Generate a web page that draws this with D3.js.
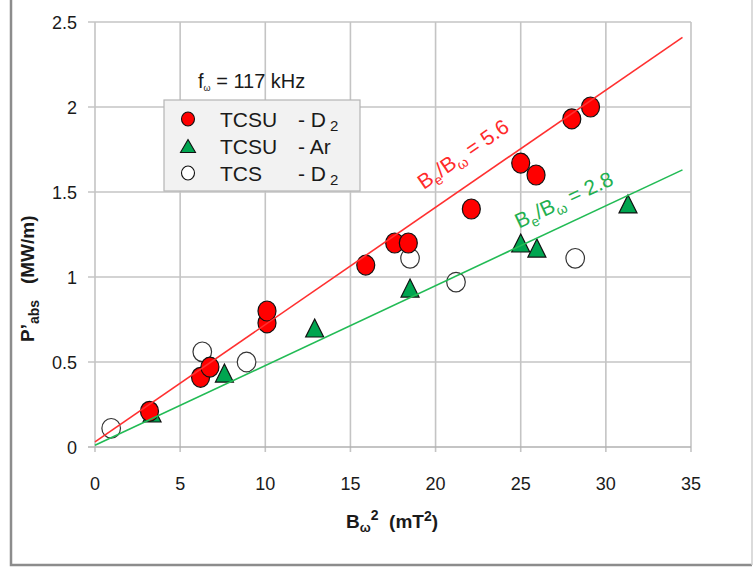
<!DOCTYPE html>
<html lang="en">
<head>
<meta charset="UTF-8">
<title>P'abs vs Bω²</title>
<script src="https://d3js.org/d3.v7.min.js"></script>
<style>
  * { margin: 0; padding: 0; }
  body { background-color: #fff; }
  svg { display: block; font-family: "Liberation Sans", Arial, sans-serif; }
</style>
</head>
<body>
<svg id="chart" width="755" height="567"></svg>
<script>
// data
var xTicks = [0, 5, 10, 15, 20, 25, 30, 35];
var yTicks = [0, 0.5, 1, 1.5, 2, 2.5];
var yTickLabels = ["0", "0.5", "1", "1.5", "2", "2.5"];

var tcsuD2X = [3.2, 6.2, 6.75, 10.1, 10.1, 15.9, 17.6, 18.4, 22.1, 25.0, 25.9, 28.0, 29.1];
var tcsuD2Y = [0.21, 0.41, 0.47, 0.73, 0.80, 1.07, 1.20, 1.20, 1.40, 1.67, 1.60, 1.93, 2.00];

var tcsuArX = [3.35, 7.6, 12.9, 18.5, 25.0, 25.95, 31.3];
var tcsuArY = [0.20, 0.435, 0.70, 0.935, 1.20, 1.17, 1.43];

var tcsD2X = [0.95, 6.3, 8.9, 18.5, 21.2, 28.2];
var tcsD2Y = [0.11, 0.56, 0.50, 1.11, 0.97, 1.11];

var fitX = [0, 34.5];
var fitRed = [0.03, 2.41];
var fitGreen = [0.01, 1.63];

var svg = d3.select('#chart');
var x = d3.scaleLinear().domain([0, 35]).range([95, 691]);
var y = d3.scaleLinear().domain([0, 2.5]).range([447, 22]);

// outer frame (left, bottom, right)
svg.append('path').attr('d', 'M11,0 V565 H752').attr('fill', 'none')
  .attr('stroke', '#8c8c8c').attr('stroke-width', 2.5);
svg.append('line').attr('x1', 752).attr('x2', 752).attr('y1', 0).attr('y2', 565)
  .attr('stroke', '#cfcfcf').attr('stroke-width', 1.5);

// grid
var gridColor = '#c4c4c4';
svg.append('g').selectAll('line').data(xTicks).enter().append('line')
  .attr('x1', function(d){ return x(d); }).attr('x2', function(d){ return x(d); })
  .attr('y1', y(2.5)).attr('y2', y(0) + 5)
  .attr('stroke', gridColor).attr('stroke-width', 1.6);
svg.append('g').selectAll('line').data(yTicks).enter().append('line')
  .attr('x1', x(0) - 7).attr('x2', x(35))
  .attr('y1', function(d){ return y(d); }).attr('y2', function(d){ return y(d); })
  .attr('stroke', function(d){ return d === 0 ? '#b0b0b0' : gridColor; })
  .attr('stroke-width', 1.6);

// tick labels
svg.append('g').selectAll('text').data(yTicks).enter().append('text')
  .attr('x', 77).attr('y', function(d){ return y(d) + 6.5; })
  .attr('text-anchor', 'end').attr('font-size', 18).attr('fill', '#1a1a1a')
  .text(function(d, i){ return yTickLabels[i]; });
svg.append('g').selectAll('text').data(xTicks).enter().append('text')
  .attr('x', function(d){ return x(d); }).attr('y', 490)
  .attr('text-anchor', 'middle').attr('font-size', 18).attr('fill', '#1a1a1a')
  .text(function(d){ return d; });

// axis titles
var xt = svg.append('text').attr('x', 392).attr('y', 528).attr('text-anchor', 'middle')
  .attr('font-size', 19).attr('font-weight', 'bold').attr('fill', '#1a1a1a');
xt.append('tspan').text('B');
xt.append('tspan').attr('font-size', 13).attr('dy', 4).text('ω');
xt.append('tspan').attr('font-size', 14).attr('dy', -12).text('2');
xt.append('tspan').attr('dy', 8).text('\u00a0\u00a0(mT');
xt.append('tspan').attr('font-size', 14).attr('dy', -7).text('2');
xt.append('tspan').attr('dy', 7).text(')');

var yt = svg.append('text').attr('transform', 'translate(34,342) rotate(-90)')
  .attr('font-size', 19).attr('font-weight', 'bold').attr('fill', '#1a1a1a');
yt.append('tspan').text('P\u2019');
yt.append('tspan').attr('font-size', 14).attr('dy', 5).text('abs');
yt.append('tspan').attr('dy', -5).text('\u00a0\u00a0\u00a0(MW/m)');

// series markers
function triangle(cx, cy, w, h) {
  return 'M' + cx + ',' + (cy - h / 2) + 'L' + (cx + w / 2) + ',' + (cy + h / 2) +
    'L' + (cx - w / 2) + ',' + (cy + h / 2) + 'Z';
}
svg.append('g').selectAll('path').data(tcsuArX).enter().append('path')
  .attr('d', function(d, i){ return triangle(x(d), y(tcsuArY[i]), 18, 18); })
  .attr('fill', '#00a550').attr('stroke', '#111').attr('stroke-width', 1.2);
svg.append('g').selectAll('ellipse').data(tcsD2X).enter().append('ellipse')
  .attr('cx', function(d){ return x(d); }).attr('cy', function(d, i){ return y(tcsD2Y[i]); })
  .attr('rx', 9.3).attr('ry', 9.8)
  .attr('fill', '#fff').attr('stroke', '#333').attr('stroke-width', 1.2);
svg.append('g').selectAll('ellipse').data(tcsuD2X).enter().append('ellipse')
  .attr('cx', function(d){ return x(d); }).attr('cy', function(d, i){ return y(tcsuD2Y[i]); })
  .attr('rx', 9).attr('ry', 10)
  .attr('fill', '#ff0000').attr('stroke', '#111').attr('stroke-width', 1.2);

// trend lines
var line = d3.line().x(function(d){ return x(d[0]); }).y(function(d){ return y(d[1]); });
svg.append('path').datum(d3.zip(fitX, fitRed)).attr('d', line)
  .attr('fill', 'none').attr('stroke', '#ff3030').attr('stroke-width', 1.6);
svg.append('path').datum(d3.zip(fitX, fitGreen)).attr('d', line)
  .attr('fill', 'none').attr('stroke', '#22bb55').attr('stroke-width', 1.6);

// slope annotations
function annot(fitY, atX, off, color, label) {
  var ang = Math.atan2(y(fitY[1]) - y(fitY[0]), x(fitX[1]) - x(fitX[0])) * 180 / Math.PI;
  var yy = fitY[0] + (fitY[1] - fitY[0]) * (atX - fitX[0]) / (fitX[1] - fitX[0]);
  var t = svg.append('text')
    .attr('transform', 'translate(' + x(atX) + ',' + y(yy) + ') rotate(' + ang + ')')
    .attr('y', -off).attr('font-size', 21).attr('fill', color);
  t.append('tspan').text('B');
  t.append('tspan').attr('font-size', 14).attr('dy', 5).text('e');
  t.append('tspan').attr('dy', -5).text('/B');
  t.append('tspan').attr('font-size', 14).attr('dy', 5).text('ω');
  t.append('tspan').attr('dy', -5).text(' = ' + label);
}
annot(fitRed, 20.0, 21, '#ff2a2a', '5.6');
annot(fitGreen, 25.3, 16, '#1fb050', '2.8');

// frequency label
var ft = svg.append('text').attr('x', 198).attr('y', 88).attr('font-size', 20).attr('fill', '#1a1a1a');
ft.append('tspan').text('f');
ft.append('tspan').attr('font-size', 9).attr('dy', 3).text('ω');
ft.append('tspan').attr('dy', -3).text(' = 117 kHz');

// legend
var legend = svg.append('g');
legend.append('rect').attr('x', 164).attr('y', 100).attr('width', 196).attr('height', 91)
  .attr('fill', '#f2f2f2').attr('stroke', '#b5b5b5').attr('stroke-width', 1.2);
var legNames = ['TCSU', 'TCSU', 'TCS'];
var legGas = ['- D', '- Ar', '- D'];
var legSub = ['2', '', '2'];
var legRows = legend.selectAll('g').data(legNames).enter().append('g')
  .attr('transform', function(d, i){ return 'translate(0,' + (119 + i * 27) + ')'; });
legRows.each(function(d, i) {
  var g = d3.select(this);
  if (i === 1) {
    g.append('path').attr('d', triangle(188, 0, 15, 13))
      .attr('fill', '#00a550').attr('stroke', '#111').attr('stroke-width', 1.1);
  } else {
    g.append('ellipse').attr('cx', 188).attr('cy', 0).attr('rx', 6.5).attr('ry', 7)
      .attr('fill', i === 0 ? '#ff0000' : '#fff').attr('stroke', '#111').attr('stroke-width', 1.1);
  }
  g.append('text').attr('x', 220).attr('y', 7.5).attr('font-size', 21).attr('fill', '#1a1a1a').text(d);
  var gt = g.append('text').attr('x', 298).attr('y', 7.5).attr('font-size', 21).attr('fill', '#1a1a1a');
  gt.append('tspan').text(legGas[i]);
  if (legSub[i]) gt.append('tspan').attr('font-size', 15).attr('dx', 4).attr('dy', 4).text(legSub[i]);
});
</script>
</body>
</html>
